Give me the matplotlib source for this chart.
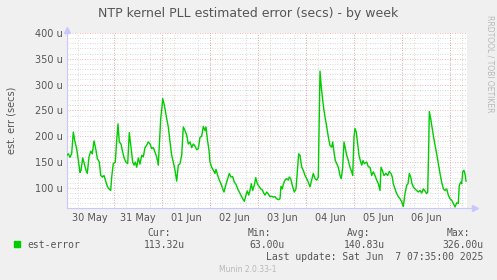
import datetime as dt
import matplotlib
matplotlib.use('Agg')
import matplotlib.pyplot as plt
import matplotlib.dates as mdates
from matplotlib.patches import Rectangle

# hours since 30 May 2025 00:00
hours = [0.2, 1.0, 1.85, 2.7, 3.5, 4.35, 5.2, 6.0, 6.85, 7.35, 8.2, 9.0, 9.85, 10.5, 11.35,
         12.2, 13.0, 13.85, 14.7, 15.5, 16.5, 17.2, 18.0, 18.85, 19.7, 20.5, 21.35, 22.2,
         22.7, 23.5, 24.5, 25.2, 25.85, 26.5, 27.35, 28.2, 29.0, 29.85, 30.7, 31.5, 32.35,
         33.2, 33.85, 34.5, 35.2, 36.0, 36.85, 37.7, 38.5, 39.35, 40.2, 41.0, 41.85, 42.7,
         43.5, 44.35, 45.2, 46.0, 46.5, 47.2, 47.85, 48.2, 48.85,
         49.5, 50.2, 51.0, 51.85, 52.7, 53.5, 54.35, 55.2, 56.0, 56.85, 57.7, 58.5, 59.35,
         60.2, 61.0, 61.85, 62.7, 63.5, 64.35, 65.2, 66.0, 66.85, 67.7, 68.5, 69.35, 69.85,
         70.5, 71.35, 71.85, 72.7, 73.5, 74.35, 74.85, 75.7, 76.5, 77.35, 78.2, 78.85, 79.7,
         80.7, 81.5, 82.35, 83.2, 84.0, 84.85, 85.7, 86.5, 87.35, 88.2, 89.0, 89.85, 90.5,
         91.2, 91.85, 92.5, 93.2, 94.0, 94.7, 95.5, 96.35, 97.2, 98.0, 98.85, 99.35,
         100.2, 101.0, 101.85, 102.7, 103.5, 104.35, 105.2, 106.0, 106.85, 107.35, 108.0,
         108.5, 109.35, 110.2, 111.0, 111.5, 112.2, 113.0, 114.0, 114.85, 115.7, 116.2,
         116.85, 117.7, 118.5, 119.35, 120.2, 121.0, 121.85, 122.7, 123.5, 124.35, 125.2,
         126.0, 126.5, 126.85, 127.5, 128.2, 128.85, 129.5, 130.2, 131.0, 131.85, 132.7,
         133.2, 133.85, 134.5, 135.2, 136.0, 136.85, 137.5, 138.2, 138.85, 139.5, 140.2,
         141.0, 141.85, 142.7, 143.2, 143.85, 144.35, 145.0, 145.7, 146.35, 147.0, 147.7,
         148.35, 149.0,
         150.2, 151.0, 151.85, 152.7, 153.5, 154.35, 155.2, 156.0, 156.85, 157.35, 158.0,
         158.85, 159.85, 160.7, 161.5, 162.35, 163.0, 163.5, 164.35, 165.2, 166.0, 166.85,
         167.7, 168.5, 169.35, 170.2, 170.85, 171.5, 172.2, 172.85, 173.5, 174.35, 175.2,
         176.0, 176.85, 177.7, 178.5, 179.35, 180.2, 180.7, 181.2, 181.5, 182.2, 182.85,
         183.5, 184.35, 185.2, 186.0, 186.85, 187.7, 188.5, 189.35, 190.2, 191.0, 191.85,
         192.7, 193.5, 194.35, 195.2, 196.0, 196.5, 197.2, 197.7, 198.2, 198.85, 199.5,
         199.85]

# est. error in microseconds
values = [163, 166, 159, 167, 208, 189, 176, 153, 130, 134, 158, 147, 134, 128, 160,
          171, 166, 191, 176, 157, 150, 124, 121, 124, 113, 103, 98, 95,
          121, 147, 150, 192, 224, 189, 185, 169, 157, 150, 147, 207, 179,
          150, 144, 150, 140, 158, 146, 163, 160, 178, 183, 189, 185, 176,
          178, 169, 160, 144, 183, 234, 257, 273, 263,
          250, 234, 218, 189, 163, 150, 134, 113, 144, 147, 163, 218, 211,
          202, 185, 189, 178, 185, 181, 174, 176, 198, 200, 219, 211, 218,
          195, 173, 150, 140, 134, 128, 136, 124, 115, 108, 98, 92, 105,
          118, 128, 121, 122, 111, 107, 98, 92, 86, 79, 74, 86, 94,
          86, 95, 108, 95, 105, 120, 108, 103, 98, 96, 89, 86,
          92, 88, 83, 84, 82, 83, 79, 77, 79, 103, 98,
          107, 115, 118, 115, 121, 118, 105, 92, 98, 140, 166,
          163, 140, 134, 124, 118, 111, 102, 115, 128, 118, 115,
          121, 250, 326, 295, 270, 250, 234, 218, 199, 182, 179,
          189, 169, 153, 147, 140, 124, 118, 140, 189, 176, 163,
          153, 140, 131, 124, 199, 215, 208, 185, 163, 153, 144,
          153, 147,
          150, 141, 140, 124, 131, 124, 115, 108, 95, 140, 134,
          124, 128, 124, 132, 128, 121, 108, 98, 89, 83, 79,
          73, 64, 89, 105, 108, 128, 121, 108, 102, 98, 95,
          92, 95, 90, 98, 94, 89, 92, 179, 248, 234, 218,
          202, 183, 166, 147, 128, 111, 98, 95, 98, 86, 79,
          76, 70, 63, 71, 70, 105, 111, 108, 131, 134, 124,
          113]

yticks = [100, 150, 200, 250, 300, 350, 400]
start = dt.datetime(2025, 5, 30)
times = [start + dt.timedelta(hours=h) for h in hours]

text_col = '#555555'
green = '#00cc00'
axis_col = '#c8c8ff'

fig = plt.figure(figsize=(4.97, 2.80), dpi=100, facecolor='#f0f0f0')
ax = fig.add_axes([67 / 497, 1 - 207.5 / 280, 400 / 497, 174.5 / 280])
ax.set_facecolor('white')

ax.plot(times, values, color=green, lw=1.0, zorder=5)

ax.set_xlim(start + dt.timedelta(hours=0.35), start + dt.timedelta(hours=200.35))
ax.set_ylim(62, 400)

# y grid
ax.set_yticks(yticks)
ax.set_yticklabels([f'{v} u' for v in yticks])
ax.yaxis.set_minor_locator(matplotlib.ticker.MultipleLocator(10))
ax.grid(which='minor', axis='y', color='#cccccc', lw=0.6, ls=(0, (1, 2)))
ax.grid(which='major', axis='y', color='#f0a0a0', lw=0.6, ls=(0, (1, 2)))

# x grid: 6h minor, red line at midnight, labels at noon
ax.xaxis.set_major_locator(mdates.HourLocator(byhour=[12]))
ax.xaxis.set_major_formatter(mdates.DateFormatter('%d %b'))
ax.xaxis.set_minor_locator(mdates.HourLocator(byhour=[0, 6, 12, 18]))
ax.grid(which='minor', axis='x', color='#cccccc', lw=0.6, ls=(0, (1, 2)))
for d in range(1, 9):
    ax.axvline(start + dt.timedelta(days=d), color='#f0a0a0', lw=0.6, ls=(0, (1, 2)), zorder=1)
ax.set_axisbelow(True)

ax.tick_params(which='both', length=0, labelsize=7, labelcolor=text_col, pad=3)
ax.tick_params(axis='x', pad=4)

for s in ['top', 'right']:
    ax.spines[s].set_visible(False)
for s in ['left', 'bottom']:
    ax.spines[s].set_color(axis_col)
    ax.spines[s].set_linewidth(0.8)
# axis arrows
ax.plot([1.0, 1.02], [0, 0], transform=ax.transAxes, color=axis_col, lw=0.8, clip_on=False)
ax.plot([1.02], [0], marker='>', ms=4, color=axis_col, transform=ax.transAxes, clip_on=False)
ax.plot([0, 0], [1.0, 1.02], transform=ax.transAxes, color=axis_col, lw=0.8, clip_on=False)
ax.plot([0], [1.02], marker='^', ms=4, color=axis_col, transform=ax.transAxes, clip_on=False)

ax.set_ylabel('est. err (secs)', fontsize=7, color=text_col, labelpad=13)

fig.text(248 / 497, 1 - 13.5 / 280, 'NTP kernel PLL estimated error (secs) - by week',
         ha='center', va='center', fontsize=9, color=text_col)
fig.text(490 / 497, 1 - 15 / 280, 'RRDTOOL / TOBI OETIKER', rotation=270,
         ha='center', va='top', fontsize=5.5, color='#b8b8b8')

# legend
mono = 'DejaVu Sans Mono'
fig.patches.append(Rectangle((14 / 497, 1 - 247 / 280), 6 / 497, 6 / 280,
                             transform=fig.transFigure, color=green))
fig.text(27 / 497, 1 - 245 / 280, 'est-error', family=mono, fontsize=7,
         color=text_col, va='center')
heads = ['Cur:', 'Min:', 'Avg:', 'Max:']
stats = ['113.32u', '63.00u', '140.83u', '326.00u']
head_x = [171, 271, 370, 470]
stat_x = [185, 285, 385, 483]
for h, hx, s, sx in zip(heads, head_x, stats, stat_x):
    fig.text(hx / 497, 1 - 233.5 / 280, h, family=mono, fontsize=7, color=text_col,
             ha='right', va='center')
    fig.text(sx / 497, 1 - 245.5 / 280, s, family=mono, fontsize=7, color=text_col,
             ha='right', va='center')
fig.text(483 / 497, 1 - 257.5 / 280, 'Last update: Sat Jun  7 07:35:00 2025', family=mono,
         fontsize=7, color=text_col, ha='right', va='center')
fig.text(248 / 497, 1 - 269.5 / 280, 'Munin 2.0.33-1', fontsize=5.5, color='#b8b8b8',
         ha='center', va='center')

fig.savefig('out.png', dpi=100, facecolor=fig.get_facecolor())
